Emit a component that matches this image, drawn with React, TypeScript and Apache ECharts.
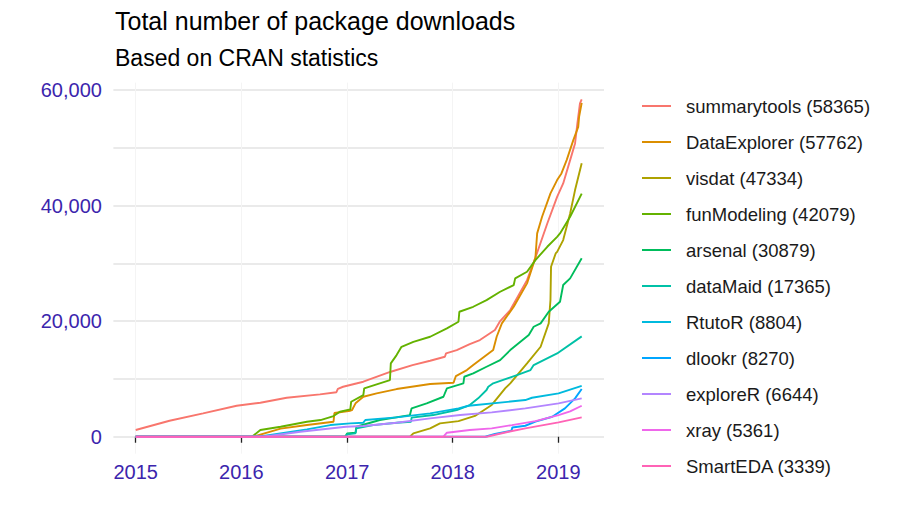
import { useEffect, useRef } from "react";
import * as echarts from "echarts";

// Cumulative CRAN downloads per package, sampled as [date, total] pairs
type Pt = [string, number];

const packages = [
  "summarytools",
  "DataExplorer",
  "visdat",
  "funModeling",
  "arsenal",
  "dataMaid",
  "RtutoR",
  "dlookr",
  "exploreR",
  "xray",
  "SmartEDA",
];

const palette = [
  "#F8766D",
  "#DB8E00",
  "#AEA200",
  "#64B200",
  "#00BD5C",
  "#00C1A7",
  "#00BADE",
  "#00A6FF",
  "#B385FF",
  "#EF67EB",
  "#FF63B6",
];

const summarytools: Pt[] = [
  ["2015-01-01", 1160], ["2015-04-28", 2770], ["2015-08-22", 4050], ["2015-12-16", 5360],
  ["2016-03-07", 5880], ["2016-06-06", 6750], ["2016-09-29", 7340], ["2016-11-25", 7700],
  ["2016-11-30", 8300], ["2016-12-18", 8650], ["2017-02-26", 9520], ["2017-06-01", 11250],
  ["2017-08-15", 12400], ["2017-10-15", 13150], ["2017-12-05", 13840], ["2017-12-09", 14430],
  ["2018-01-15", 15000], ["2018-03-01", 16040], ["2018-04-05", 16730], ["2018-05-27", 18460],
  ["2018-06-14", 20020], ["2018-07-19", 21920], ["2018-09-15", 27100], ["2018-10-14", 31000],
  ["2018-11-24", 36900], ["2018-12-28", 41520], ["2019-01-18", 43840], ["2019-02-11", 47870],
  ["2019-02-28", 50760], ["2019-03-08", 54200], ["2019-03-17", 57680], ["2019-03-23", 58365],
];

const dataExplorer: Pt[] = [
  ["2015-01-01", 0], ["2016-02-10", 0], ["2016-05-16", 1400], ["2016-08-15", 2020],
  ["2016-11-15", 2600], ["2016-11-18", 4100], ["2017-01-12", 4500], ["2017-01-18", 4620],
  ["2017-01-30", 5780], ["2017-02-26", 6920], ["2017-04-13", 7500], ["2017-06-21", 8250],
  ["2017-10-15", 9120], ["2018-01-04", 9340], ["2018-01-12", 10500], ["2018-02-19", 11540],
  ["2018-03-13", 12400], ["2018-04-05", 13270], ["2018-05-21", 15000], ["2018-06-02", 17300],
  ["2018-06-20", 19620], ["2018-07-31", 22490], ["2018-09-15", 26540], ["2018-10-14", 31000],
  ["2018-10-20", 35190], ["2018-11-06", 38070], ["2018-12-05", 42110], ["2018-12-28", 44410],
  ["2019-01-12", 45560], ["2019-01-30", 47870], ["2019-02-22", 51330], ["2019-03-11", 53630],
  ["2019-03-14", 55360], ["2019-03-23", 57762],
];

const visdat: Pt[] = [
  ["2015-01-01", 0], ["2017-08-06", 0], ["2017-08-18", 580], ["2017-10-15", 1450],
  ["2017-11-18", 2320], ["2018-01-21", 2700], ["2018-03-19", 3600], ["2018-05-16", 5500],
  ["2018-07-02", 8400], ["2018-07-19", 9240], ["2018-09-15", 12700], ["2018-11-01", 15570],
  ["2018-11-29", 19620], ["2018-12-05", 23650], ["2018-12-07", 29410], ["2018-12-23", 31720],
  ["2018-12-28", 32000], ["2019-01-18", 34030], ["2019-02-11", 38640], ["2019-02-28", 42680],
  ["2019-03-23", 47334],
];

const funModeling: Pt[] = [
  ["2015-01-01", 0], ["2016-02-07", 0], ["2016-03-07", 1160], ["2016-05-16", 1730],
  ["2016-08-15", 2600], ["2016-10-01", 2890], ["2016-11-15", 3580], ["2016-12-07", 4330],
  ["2017-01-12", 4740], ["2017-01-15", 6060], ["2017-02-26", 7210], ["2017-03-01", 8370],
  ["2017-05-29", 9810], ["2017-06-01", 12700], ["2017-06-21", 14130], ["2017-07-08", 15570],
  ["2017-08-18", 16430], ["2017-10-15", 17300], ["2017-12-12", 18750], ["2018-01-21", 19900],
  ["2018-01-24", 21630], ["2018-03-13", 22490], ["2018-04-28", 23650], ["2018-06-14", 25090],
  ["2018-07-31", 26250], ["2018-08-05", 27400], ["2018-09-15", 28550], ["2018-10-14", 30570],
  ["2018-11-24", 32870], ["2018-12-28", 34600], ["2019-01-07", 35190], ["2019-02-11", 38070],
  ["2019-03-23", 42079],
];

const arsenal: Pt[] = [
  ["2015-01-01", 0], ["2016-12-25", 0], ["2017-01-01", 580], ["2017-01-30", 700],
  ["2017-02-02", 1730], ["2017-04-24", 2890], ["2017-08-06", 3750], ["2017-08-12", 4910],
  ["2017-10-03", 5780], ["2017-11-30", 6920], ["2017-12-12", 8370], ["2018-02-07", 9240],
  ["2018-02-10", 10380], ["2018-03-13", 10960], ["2018-04-28", 12110], ["2018-06-14", 13270],
  ["2018-07-19", 15000], ["2018-09-21", 17600], ["2018-10-08", 19030], ["2018-11-01", 19620],
  ["2018-11-29", 21630], ["2019-01-07", 23360], ["2019-01-18", 26250], ["2019-02-11", 27400],
  ["2019-03-23", 30879],
];

const dataMaid: Pt[] = [
  ["2015-01-01", 0], ["2016-12-28", 0], ["2017-01-01", 400], ["2017-01-30", 580],
  ["2017-02-02", 1450], ["2017-04-01", 2000], ["2017-06-21", 2430], ["2017-08-10", 2600],
  ["2017-08-12", 3300], ["2017-10-26", 3750], ["2018-01-15", 4620], ["2018-03-01", 5490],
  ["2018-03-30", 6640], ["2018-04-28", 8080], ["2018-05-04", 8650], ["2018-05-21", 9240],
  ["2018-08-11", 10670], ["2018-09-27", 11540], ["2018-10-08", 12400], ["2018-12-28", 14420],
  ["2019-03-23", 17365],
];

const rtutoR: Pt[] = [
  ["2015-01-01", 0], ["2016-03-01", 0], ["2016-08-15", 1280], ["2016-11-04", 2020],
  ["2017-01-12", 2320], ["2017-02-26", 2430], ["2017-03-05", 2890], ["2017-06-21", 3350],
  ["2017-10-15", 4050], ["2018-01-21", 4910], ["2018-02-25", 5360], ["2018-09-09", 6350],
  ["2018-10-02", 6750], ["2019-01-02", 7500], ["2019-03-23", 8804],
];

const dlookr: Pt[] = [
  ["2015-01-01", 0], ["2018-04-23", 0], ["2018-05-27", 470], ["2018-07-19", 1000],
  ["2018-07-24", 1150], ["2018-07-26", 1600], ["2018-09-09", 1900], ["2018-10-14", 2600],
  ["2018-12-11", 3460], ["2019-01-24", 4910], ["2019-02-28", 6640], ["2019-03-23", 8270],
];

const exploreR: Pt[] = [
  ["2015-01-01", 0], ["2016-03-18", 0], ["2016-07-23", 870], ["2016-12-28", 1730],
  ["2017-02-26", 1850], ["2017-06-21", 2430], ["2017-10-15", 3180], ["2018-01-27", 3750],
  ["2018-05-16", 4220], ["2018-09-09", 4910], ["2019-01-02", 5780], ["2019-03-23", 6644],
];

const xray: Pt[] = [
  ["2015-01-01", 0], ["2017-11-30", 0], ["2017-12-12", 700], ["2018-03-01", 1160],
  ["2018-05-16", 1450], ["2018-07-25", 2020], ["2018-10-14", 2710], ["2019-01-02", 3750],
  ["2019-02-11", 4400], ["2019-03-23", 5361],
];

const smartEDA: Pt[] = [
  ["2015-01-01", 0], ["2018-04-28", 0], ["2018-07-13", 870], ["2018-09-09", 1450],
  ["2019-01-02", 2480], ["2019-03-23", 3339],
];

const seriesData: Pt[][] = [
  summarytools, dataExplorer, visdat, funModeling, arsenal, dataMaid,
  rtutoR, dlookr, exploreR, xray, smartEDA,
];

const yLabelValues = [0, 20000, 40000, 60000];
const yGridValues = [0, 10000, 20000, 30000, 40000, 50000, 60000];
const xYears = [2015, 2016, 2017, 2018, 2019];

const toTime = (d: string) => {
  const [y, m, day] = d.split("-").map(Number);
  return Date.UTC(y, m - 1, day);
};

const FONT = "'Liberation Sans', Arial, Helvetica, sans-serif";
const AXIS_TEXT = "#3b25ad";

export default function App() {
  const ref = useRef<HTMLDivElement>(null);

  useEffect(() => {
    if (!ref.current) return;
    const chart = echarts.init(ref.current, undefined, { renderer: "svg" });

    const legendNames = packages.map((p, i) => {
      const s = seriesData[i];
      return `${p} (${s[s.length - 1][1]})`;
    });

    // ggplot-style 5% expansion on both axes
    const allTimes = seriesData.flat().map((p) => toTime(p[0]));
    const tMin = Math.min(...allTimes);
    const tMax = Math.max(...allTimes);
    const tPad = (tMax - tMin) * 0.05;
    const vMax = Math.max(...seriesData.flat().map((p) => p[1]));
    const vPad = vMax * 0.05;

    const yearTicks = xYears.map((y) => Date.UTC(y, 0, 1));

    chart.setOption({
      animation: false,
      backgroundColor: "#ffffff",
      textStyle: { fontFamily: FONT },
      title: {
        text: "Total number of package downloads",
        subtext: "Based on CRAN statistics",
        left: 115,
        top: 8,
        itemGap: 13,
        padding: 0,
        textStyle: { fontFamily: FONT, fontSize: 25, fontWeight: "normal", color: "#000000" },
        subtextStyle: { fontFamily: FONT, fontSize: 23, color: "#000000" },
      },
      legend: {
        orient: "vertical",
        left: 642,
        top: 95,
        padding: 0,
        icon: "rect",
        itemWidth: 29,
        itemHeight: 2,
        itemGap: 14,
        data: legendNames,
        textStyle: {
          fontFamily: FONT,
          fontSize: 18.5,
          lineHeight: 22,
          color: "#1a1a1a",
          padding: [0, 0, 0, 10],
        },
      },
      grid: { left: 113.4, right: 296, top: 82.6, bottom: 71.4 },
      xAxis: {
        type: "value",
        min: tMin - tPad,
        max: tMax + tPad,
        axisLine: { show: true, lineStyle: { color: "rgba(0,0,0,0)" } },
        axisTick: {
          show: true,
          length: 6,
          customValues: yearTicks,
          lineStyle: { color: "#222222", width: 1.3 },
        },
        axisLabel: {
          customValues: yearTicks,
          formatter: (v: number) => String(new Date(v).getUTCFullYear()),
          color: AXIS_TEXT,
          fontFamily: FONT,
          fontSize: 20,
          margin: 8,
          showMinLabel: true,
          showMaxLabel: true,
        },
        splitLine: { show: true, lineStyle: { color: "#f4f4f4", width: 1 } },
      },
      yAxis: {
        type: "value",
        min: -vPad,
        max: vMax + vPad,
        axisLine: { show: false },
        axisTick: { show: false, customValues: yGridValues },
        axisLabel: {
          customValues: yLabelValues,
          formatter: (v: number) => v.toLocaleString("en-US"),
          color: AXIS_TEXT,
          fontFamily: FONT,
          fontSize: 20,
          margin: 11.5,
        },
        splitLine: { show: true, lineStyle: { color: "#e3e3e3", width: 1.5 } },
      },
      series: seriesData.map((pts, i) => ({
        name: legendNames[i],
        type: "line",
        symbol: "none",
        showSymbol: false,
        color: palette[i],
        lineStyle: { color: palette[i], width: 1.9 },
        data: pts.map(([d, v]) => [toTime(d), v]),
      })),
    });

    return () => chart.dispose();
  }, []);

  return (
    <div
      ref={ref}
      style={{ position: "absolute", left: 0, top: 0, width: 900, height: 525 }}
    />
  );
}
